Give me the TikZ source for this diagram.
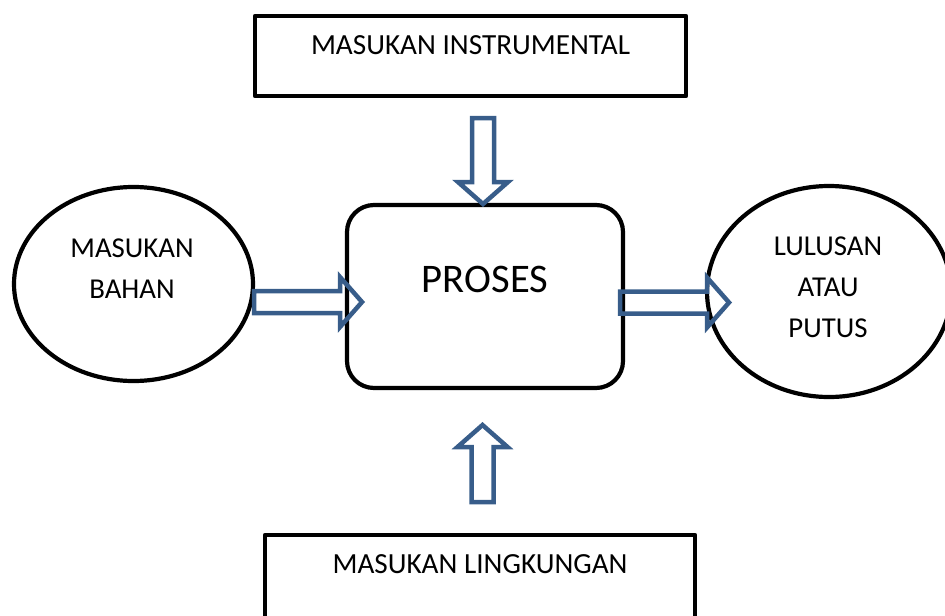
\documentclass[tikz,border=0pt]{standalone}
\usepackage{fontspec}
\setmainfont{Carlito}
\usetikzlibrary{calc,shapes.geometric}

\definecolor{birupanah}{RGB}{56,93,138}
% ukuran panah blok (setengah lebar batang, setengah lebar kepala, panjang kepala)
\newcommand{\lebar}{5.5pt}
\newcommand{\sayap}{12.5pt}
\newcommand{\kepala}{11pt}
\newcommand{\panah}[2]{%
  \draw[panahblok] ($(#1)!\lebar!90:(#2)$) -- ($(#2)!\kepala!(#1)!\lebar!-90:(#1)$)
    -- ($(#2)!\kepala!(#1)!\sayap!-90:(#1)$) -- (#2)
    -- ($(#2)!\kepala!(#1)!\sayap!90:(#1)$) -- ($(#2)!\kepala!(#1)!\lebar!90:(#1)$)
    -- ($(#1)!\lebar!-90:(#2)$) -- cycle;
}

\begin{document}
\begin{tikzpicture}[x=0.5pt, y=-0.5pt, line join=round,
    kotak/.style={draw, line width=2.1pt, inner sep=0pt, text height=9.2pt,
      font=\fontsize{14.6pt}{20.5pt}\selectfont},
    elips/.style={ellipse, draw, line width=2.1pt, inner sep=0pt},
    teks/.style={font=\fontsize{14.4pt}{20.5pt}\selectfont, align=center},
    panahblok/.style={draw=birupanah, line width=2.25pt, line join=miter}]

\useasboundingbox (0,0) rectangle (945,615);
\clip (0,0) rectangle (945,615);

% === KOTAK ATAS DAN BAWAH ===
\node[kotak, minimum width=215.5pt, minimum height=40pt, text depth=11pt]
  (instrumen) at (470.5,56) {MASUKAN INSTRUMENTAL};
\node[kotak, minimum width=215pt, minimum height=42pt, text depth=13pt]
  (lingkungan) at (480,577) {MASUKAN LINGKUNGAN};

% === PROSES (tengah) ===
\node[draw, line width=2.1pt, rounded corners=13.5pt, inner sep=0pt,
  minimum width=138pt, minimum height=91.5pt,
  font=\fontsize{20.3pt}{23pt}\selectfont, text height=12.8pt, text depth=17.3pt]
  (proses) at (485,296.5) {PROSES};

% === ELIPS KIRI DAN KANAN ===
\node[elips, minimum width=119.5pt, minimum height=97pt] (bahan) at (133.5,284) {};
\node[teks] (tbahan) at (132,269) {MASUKAN\\BAHAN};
\node[elips, minimum width=122pt, minimum height=105.5pt] (lulusan) at (829,291.5) {};
\node[teks] (tlulusan) at (828,287.5) {LULUSAN\\ATAU\\PUTUS};

% === PANAH BLOK ===
\coordinate (atas1) at (483,118);
\coordinate (atas2) at (483,204);
\coordinate (bawah1) at (482.5,502);
\coordinate (bawah2) at (482.5,425);
\coordinate (kiri1) at (254,302);
\coordinate (kiri2) at (362,302);
\coordinate (kanan1) at (620,302.5);
\coordinate (kanan2) at (729,302.5);
\foreach \a/\b in {atas1/atas2, bawah1/bawah2, kiri1/kiri2, kanan1/kanan2}{
  \panah{\a}{\b}
}

\end{tikzpicture}
\end{document}
